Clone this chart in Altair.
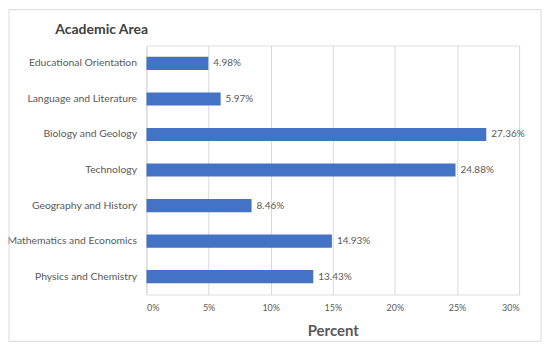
import altair as alt
import pandas as pd

categories = ["Educational Orientation", "Language and Literature", "Biology and Geology",
              "Technology", "Geography and History", "Mathematics and Economics",
              "Physics and Chemistry"]
values = [4.98, 5.97, 27.36, 24.88, 8.46, 14.93, 13.43]
labels = ["4.98%", "5.97%", "27.36%", "24.88%", "8.46%", "14.93%", "13.43%"]
x_ticks = [0, 5, 10, 15, 20, 25, 30]

df = pd.DataFrame({"area": categories, "pct": values, "label": labels})

FONT = "Lato"
W, H = 374, 250

x_enc = alt.X("pct:Q", scale=alt.Scale(domain=[0, 30], nice=False),
              axis=alt.Axis(values=x_ticks, labelExpr="datum.value + '%'",
                            title="Percent", titleFontSize=15, titleFontWeight="bold",
                            titleColor="#595959", titlePadding=11,
                            labelFontSize=9, labelColor="#595959", labelPadding=9,
                            grid=True, gridColor="#d9d9d9", domain=False, ticks=False))
y_enc = alt.Y("area:N", sort=categories,
              scale=alt.Scale(paddingInner=0.63, paddingOuter=0.32),
              axis=alt.Axis(title="Academic Area", titleAngle=0, titleAlign="left",
                            titleBaseline="middle", titleX=-92, titleY=-16,
                            titleFontSize=14, titleFontWeight="bold", titleColor="#404040",
                            labelFontSize=10.4, labelColor="#595959", labelPadding=10,
                            domain=False, ticks=False, grid=False))

bars = alt.Chart(df).mark_bar(color="#4472C4").encode(x=x_enc, y=y_enc)
text = alt.Chart(df).mark_text(align="left", baseline="middle", dx=5, fontSize=10,
                               color="#595959", font=FONT).encode(
    x="pct:Q", y=alt.Y("area:N", sort=categories), text="label:N")

border = alt.Chart(pd.DataFrame({"a": [0]})).mark_rect(
    fill=None, stroke="#d9d9d9", strokeWidth=1).encode(
    x=alt.value(-138), x2=alt.value(396), y=alt.value(-36), y2=alt.value(297))

chart = alt.layer(border, bars, text).properties(
    width=W, height=H,
    autosize=alt.AutoSizeParams(type="none"),
    padding={"left": 139, "top": 37, "right": 23, "bottom": 50},
).configure_view(stroke=None).configure(font=FONT, background="white")

chart.save("out.html", embed_options={"renderer": "svg", "actions": False})
